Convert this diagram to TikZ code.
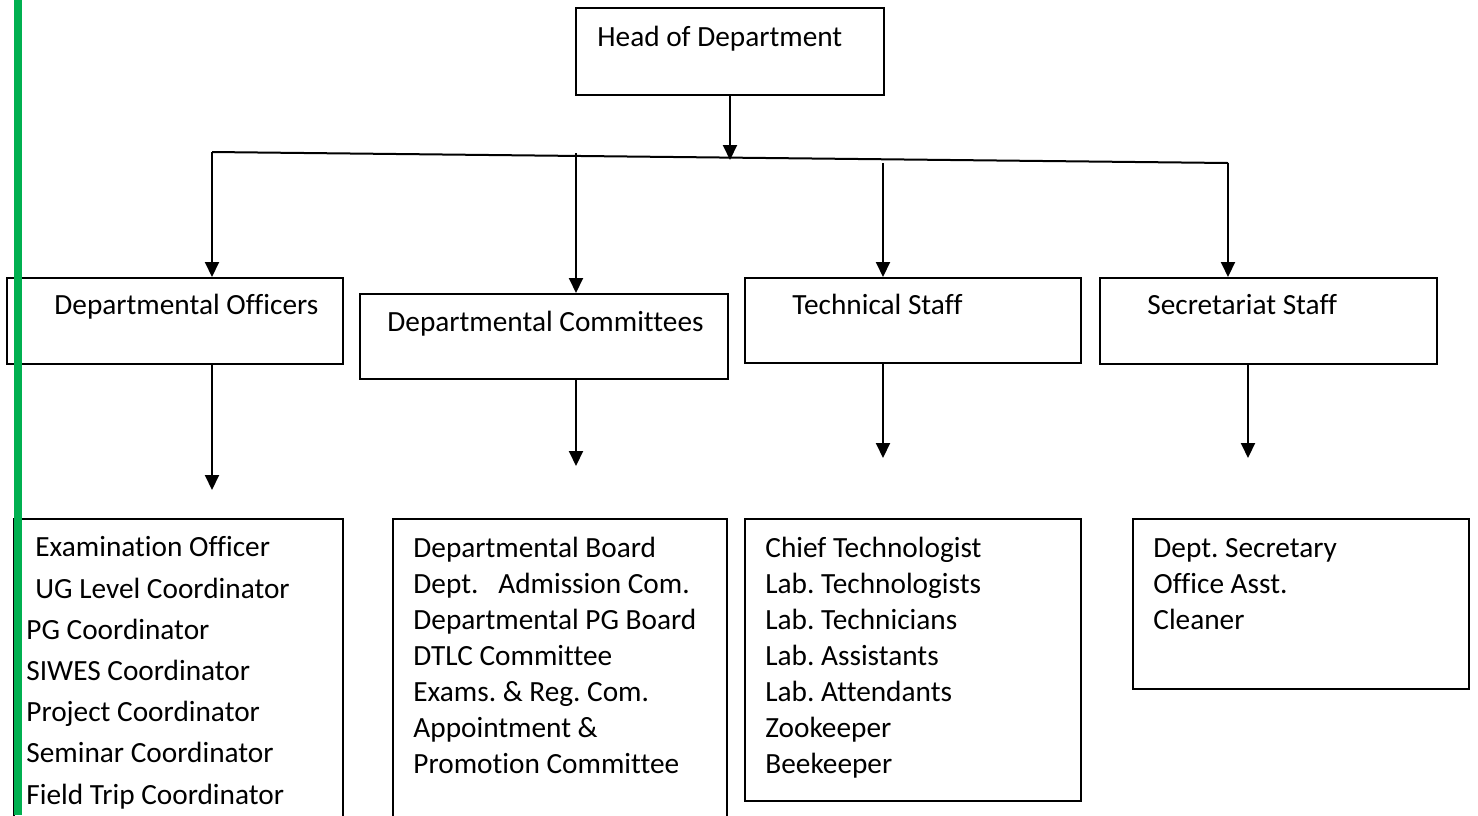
\documentclass[tikz,border=0pt]{standalone}
\usepackage{fontspec}
\setmainfont{Carlito}[Ligatures=CommonOff]
\usetikzlibrary{arrows.meta}

\definecolor{barGreen}{RGB}{0,176,80}

\tikzset{
  orgbox/.style={draw, line width=1pt, inner sep=0pt, anchor=north west},
  orgtext/.style={anchor=base west, inner sep=0pt, align=left,
    font=\fontsize{14.65pt}{18pt}\selectfont},
  orgarrow/.style={line width=1pt, -{Triangle[length=7.5pt,width=7pt]}},
}

\begin{document}
\frenchspacing
\begin{tikzpicture}[x=0.5pt,y=-0.5pt]
  \useasboundingbox (0,0) rectangle (1478,815);

  % boxes
  \node[orgbox, minimum width=154pt, minimum height=43.5pt] (hod) at (575,7) {};
  \node[orgbox, minimum width=168pt, minimum height=43pt] (offbox) at (6,277) {};
  \node[orgbox, minimum width=184pt, minimum height=42.5pt] (combox) at (359,293) {};
  \node[orgbox, minimum width=168pt, minimum height=42.5pt] (techbox) at (744,277) {};
  \node[orgbox, minimum width=168.5pt, minimum height=43pt] (secbox) at (1099,277) {};
  \node[orgbox, minimum width=164.5pt, minimum height=160pt] (offlist) at (13,518) {};
  \node[orgbox, minimum width=167pt, minimum height=160pt] (comlist) at (392,518) {};
  \node[orgbox, minimum width=168pt, minimum height=141pt] (techlist) at (744,518) {};
  \node[orgbox, minimum width=168pt, minimum height=85pt] (seclist) at (1132,518) {};

  % titles
  \node[orgtext] (hodtext) at (597,46) {Head of Department};
  \node[orgtext] (offtext) at (54,314) {Departmental Officers};
  \node[orgtext] (comtext) at (387,331) {Departmental Committees};
  \node[orgtext] (techtext) at (792,314) {Technical Staff};
  \node[orgtext] (sectext) at (1147,314) {Secretariat Staff};

  % lists (base = baseline of the last line)
  \node[orgtext, font=\fontsize{14.65pt}{20.6pt}\selectfont] (offitems) at (26,804)
    {\hspace*{4.5pt}Examination Officer\\\hspace*{4.5pt}UG Level Coordinator\\PG Coordinator\\
     SIWES Coordinator\\Project Coordinator\\Seminar Coordinator\\Field Trip Coordinator};
  \node[orgtext] (comitems) at (413,773)
    {Departmental Board\\Dept.\ \ \ Admission Com.\\Departmental PG Board\\DTLC Committee\\
     Exams. \& Reg. Com.\\Appointment \&\\Promotion Committee};
  \node[orgtext] (techitems) at (765,773)
    {Chief Technologist\\Lab. Technologists\\Lab. Technicians\\Lab. Assistants\\
     Lab. Attendants\\Zookeeper\\Beekeeper};
  \node[orgtext] (secitems) at (1153,629) {Dept. Secretary\\Office Asst.\\Cleaner};

  % connectors
  \coordinate (joint) at (730,160);
  \coordinate (barL) at (212,152);
  \coordinate (barR) at (1228,163);
  \coordinate (dropB) at (576,153);
  \coordinate (dropC) at (883,163);
  \coordinate (offtip) at (212,490);
  \coordinate (comtip) at (576,466);
  \coordinate (techtip) at (883,458);
  \coordinate (sectip) at (1248,458);

  \draw[orgarrow] (hod.south) -- (joint);
  \draw[line width=1pt] (barL) -- (barR);
  \draw[orgarrow] (barL) -- (barL |- offbox.north);
  \draw[orgarrow] (dropB) -- (dropB |- combox.north);
  \draw[orgarrow] (dropC) -- (dropC |- techbox.north);
  \draw[orgarrow] (barR) -- (barR |- secbox.north);

  \draw[orgarrow] (offtip |- offbox.south) -- (offtip);
  \draw[orgarrow] (comtip |- combox.south) -- (comtip);
  \draw[orgarrow] (techtip |- techbox.south) -- (techtip);
  \draw[orgarrow] (sectip |- secbox.south) -- (sectip);

  % green margin bar
  \fill[barGreen] (14,0) rectangle (22,815);
\end{tikzpicture}
\end{document}
